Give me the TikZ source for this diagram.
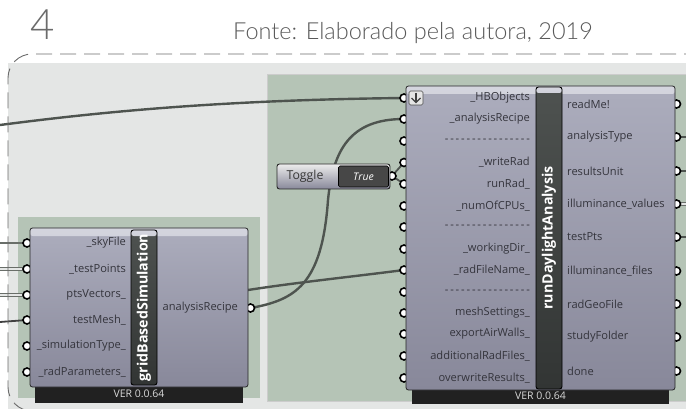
\documentclass[tikz,border=0pt]{standalone}
\usepackage{fontspec}
\setmainfont{Open Sans}
\newfontfamily\titlefont{Lato Light}
\usetikzlibrary{calc}
\pgfdeclarelayer{bg}\pgfdeclarelayer{wires}\pgfdeclarelayer{top}
\pgfsetlayers{bg,wires,main,top}
\definecolor{panel}{HTML}{E4E6E5}
\definecolor{groupg}{HTML}{B5C4B6}
\definecolor{wirec}{HTML}{4E544F}
\definecolor{lab}{HTML}{34343C}
\definecolor{compa}{HTML}{ACADBD}
\definecolor{compb}{HTML}{88889A}
\definecolor{compc}{HTML}{D4D5DE}
\definecolor{stripa}{HTML}{4E5250}
\definecolor{stripb}{HTML}{323534}
\newcommand{\sepdash}{-\,-\,-\,-\,-\,-\,-\,-\,-\,-\,-\,-\,-\,-\,-\,-}
\tikzset{
  port/.style={circle,draw=black,fill=white,line width=1.6pt,inner sep=0pt,minimum size=8pt},
  comp/.style={draw=black!85,line width=.8pt,rounded corners=2.5pt,inner sep=0pt,
    top color=compa,bottom color=compb,
    path picture={\shade[top color=compc,bottom color=compa]
      (path picture bounding box.north west) rectangle ([yshift=-8pt]path picture bounding box.north east);}},
  strip/.style={draw=black,line width=.9pt,rounded corners=2.5pt,inner sep=0pt,
    top color=stripa,bottom color=stripb,
    path picture={\shade[top color=compc,bottom color=stripa]
      (path picture bounding box.north west) rectangle ([yshift=-6pt]path picture bounding box.north east);}},
  verbar/.style={fill=black!87,inner sep=0pt,text=white!85!black,font=\fontsize{10.5pt}{12pt}\selectfont},
  striplab/.style={rotate=90,text=white,font=\fontsize{14.2pt}{16pt}\selectfont\bfseries,inner sep=0pt},
  inlab/.style={anchor=east,text=lab,inner sep=0pt,font=\fontsize{11.1pt}{12pt}\selectfont},
  outlab/.style={anchor=west,text=lab,inner sep=0pt,font=\fontsize{11.1pt}{12pt}\selectfont},
  wire/.style={draw=wirec,line width=2.4pt},
  dblwire/.style={draw=wirec!85,line width=.9pt,double=panel,double distance=1.4pt},
  frame/.style={draw=black!58,line width=.9pt,dash pattern=on 16pt off 8pt,rounded corners=24pt},
}
\begin{document}
\begin{tikzpicture}[x=1pt,y=-1pt]
\useasboundingbox (0,0) rectangle (686,409);
\begin{pgfonlayer}{bg}
  \fill[panel] (8,63) rectangle (686,409);
  \draw[black!20,line width=.5pt,fill=groupg] (267,74) rectangle (686,401);
  \fill[groupg] (18,217) rectangle (260,398);
\end{pgfonlayer}
\node[anchor=center,text=black!58,font=\fontsize{42pt}{44pt}\titlefont] (num) at (43,25) {4};
\node[anchor=center,text=black!65,font=\fontsize{23.5pt}{26pt}\titlefont] (src) at (413,33) {Fonte: Elaborado pela autora, 2019};

% ---------- input/output ports
\foreach \n/\y in {1/243,2/269,3/295,4/320,5/346,6/372}
  \node[port] (g\n) at (27,\y) {};
\node[port] (gout) at (250.5,308) {};
\foreach \n/\y in {1/98,2/119,3/141,4/162.5,5/184,6/206,7/227,8/249,9/270,10/292,11/313,12/334,13/356,14/378}
  \node[port] (a\n) at (404,\y) {};
\foreach \n/\y in {1/104,2/137,3/171,4/204,5/237,6/271,7/304,8/337,9/371}
  \node[port] (o\n) at (676.5,\y) {};
\node[port] (tout) at (392,176) {};

% ---------- gridBasedSimulation
\node[verbar,minimum width=208pt,minimum height=18pt] (gver) at (139,394) {VER 0.0.64};
\node[comp,minimum width=218pt,minimum height=159pt] (gcomp) at (139,307.5) {};
\node[strip,minimum width=26pt,minimum height=155pt] (gstrip) at (144,307.5) {};
\node[striplab] (gname) at (144,307.5) {gridBasedSimulation};
\foreach \y/\t in {243/\_skyFile,269/\_testPoints,295/ptsVectors\_,320/testMesh\_,346/\_simulationType\_,372/\_radParameters\_}
  \node[inlab] at (126,\y) {\t};
\node[outlab] (gres) at (162.5,308) {analysisRecipe};

% ---------- runDaylightAnalysis
\node[verbar,minimum width=257pt,minimum height=16pt] (aver) at (540.5,396) {VER 0.0.64};
\node[comp,minimum width=269pt,minimum height=304pt] (acomp) at (540.5,238) {};
\node[strip,minimum width=26pt,minimum height=302pt] (astrip) at (549,238) {};
\node[striplab] (aname) at (549,238) {runDaylightAnalysis};
\foreach \y/\t in {98/\_HBObjects,119/\_analysisRecipe,141/\sepdash,162.5/\_writeRad,184/runRad\_,206/\_numOfCPUs\_,227/\sepdash,249/\_workingDir\_,270/\_radFileName\_,292/\sepdash,313/meshSettings\_,334/exportAirWalls\_,356/additionalRadFiles\_,378/overwriteResults\_}
  \node[inlab] at (530,\y) {\t};
\foreach \y/\t in {104/readMe!,137/analysisType,171/resultsUnit,204/illuminance\_values,237/testPts,271/illuminance\_files,304/radGeoFile,337/studyFolder,371/done}
  \node[outlab] at (567,\y) {\t};
% arrow badge
\node[draw=black!70,line width=.7pt,fill=white!80!gray,rounded corners=1.5pt,minimum size=14pt,inner sep=0pt] (badge) at (416,98) {};
\draw[black!75,line width=1.3pt] (416,93) -- (416,102);
\draw[black!75,line width=1.3pt] (411.5,98) -- (416,102.5) -- (420.5,98);

% ---------- Toggle
\node[draw=black!85,line width=.9pt,rounded corners=2.5pt,minimum width=113pt,minimum height=25pt,inner sep=0pt,
  top color=white!85!gray,bottom color=compb] (tog) at (333.5,176.5) {};
\node[draw=black,line width=.6pt,rounded corners=1.5pt,minimum width=50pt,minimum height=21pt,inner sep=0pt,
  fill=black!72,text=white,font=\fontsize{10.5pt}{12pt}\selectfont\itshape] (tval) at (363.5,176.5) {True};
\node[text=black!78,font=\fontsize{12.3pt}{13pt}\selectfont,inner sep=0pt] (tlab) at (305,176.5) {Toggle};

% ---------- connectors
\coordinate (w1) at (0,125);
\coordinate (w2) at (0,243);
\coordinate (w3) at (0,269);
\coordinate (w4) at (0,295);
\coordinate (w5) at (0,322);
\coordinate (gbehind) at (248,290);
\coordinate (e2) at (686,137);
\coordinate (e3) at (686,171);
\coordinate (e4) at (686,204);
\coordinate (e5) at (686,237);
\begin{pgfonlayer}{wires}
  \draw[wire] (w1) .. controls (100,112) and (220,100) .. (a1.center);
  \draw[wire] (gout.center) .. controls (295,300) and (322,285) .. (328,200)
     .. controls (333,150) and (350,119) .. (a2.center);
  \draw[wire] (gbehind) .. controls (300,282) and (350,277) .. (a9.center);
  \draw[wire,line width=1.8pt] (tout.center) -- (a4.center);
  \draw[wire,line width=1.8pt] (tout.center) -- (a5.center);
  \draw[draw=wirec!85,line width=1.8pt] (w2) -- (g1.center);
  \draw[dblwire] (w3) -- (g2.center);
  \draw[dblwire] (w4) -- (g3.center);
  \draw[wire,draw=black!75,line width=1.8pt] (w5) -- (g4.center);
  \draw[draw=wirec,line width=1.5pt] (o2.center) -- (e2);
  \draw[draw=wirec,line width=1.5pt] (o3.center) -- (e3);
  \draw[dblwire] (o4.center) -- (e4);
  \draw[draw=wirec,line width=1.5pt] (o5.center) -- (e5);
\end{pgfonlayer}
\begin{pgfonlayer}{top}
  \begin{scope}
    \clip (0,0) rectangle (686,409);
    \draw[frame] (700,54) -- (8,54) -- (8,411) -- (700,411);
  \end{scope}
\end{pgfonlayer}
\end{tikzpicture}
\end{document}
